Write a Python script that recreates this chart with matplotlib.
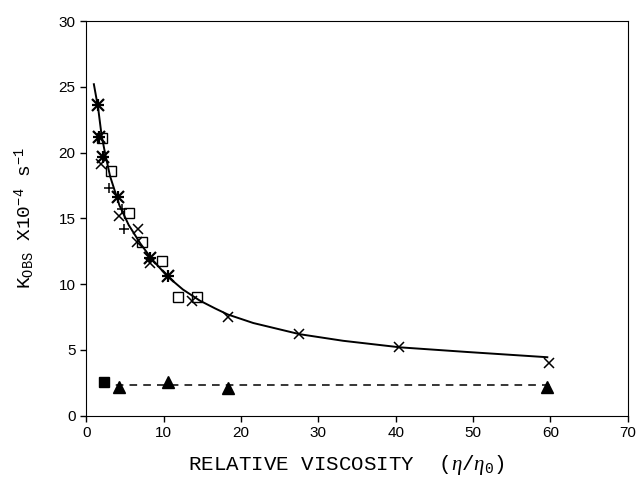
import matplotlib.pyplot as plt

plt.rcParams['mathtext.fontset'] = 'custom'
plt.rcParams['mathtext.rm'] = 'Liberation Mono'
plt.rcParams['mathtext.it'] = 'Liberation Serif:italic'
plt.rcParams['mathtext.tt'] = 'Liberation Mono'

# data
star_x = [1.55, 1.7, 2.2, 4.1, 8.3, 10.6]
star_y = [23.6, 21.2, 19.7, 16.6, 12.0, 10.6]

cross_x = [1.9, 4.3, 6.7, 6.6, 8.3, 13.7, 18.3, 27.5, 40.4, 59.8]
cross_y = [19.1, 15.2, 14.2, 13.2, 11.6, 8.7, 7.5, 6.2, 5.2, 4.0]

plus_x = [3.0, 4.65, 4.9]
plus_y = [17.3, 15.7, 14.2]

square_x = [2.1, 3.2, 5.6, 7.2, 9.8, 11.9, 14.3]
square_y = [21.1, 18.6, 15.4, 13.2, 11.8, 9.0, 9.0]

# fitted curve as drawn
fit_x = [1.0, 1.55, 2.0, 2.5, 3.1, 4.3, 5.5, 7.0, 8.5, 10.5, 12.5, 14.7, 16.7,
         18.3, 21.6, 27.6, 33.2, 40.6, 49.2, 59.6]
fit_y = [25.2, 23.4, 21.3, 19.8, 18.2, 16.0, 14.5, 13.1, 11.9, 10.6, 9.6, 8.75, 8.15,
         7.7, 7.05, 6.2, 5.7, 5.2, 4.85, 4.45]

# control (filled symbols)
fsq_x = [2.3]
fsq_y = [2.55]
tri_x = [4.3, 10.6, 18.3, 59.6]
tri_y = [2.2, 2.6, 2.1, 2.2]
dash_x = [2.0, 60.0]
dash_y = [2.35, 2.35]

fig = plt.figure(figsize=(6.38, 4.79), dpi=100)
ax = fig.add_axes([0.135, 0.132, 0.849, 0.824])

ax.plot(fit_x, fit_y, color='black', lw=1.4)
ax.plot(dash_x, dash_y, color='black', lw=1.1, ls=(0, (5, 4)))

ax.plot(star_x, star_y, ls='none', marker='x', ms=8, mew=1.6, color='black')
ax.plot(star_x, star_y, ls='none', marker='+', ms=8, mew=1.6, color='black')
ax.plot(cross_x, cross_y, ls='none', marker='x', ms=7, mew=1.1, color='black')
ax.plot(plus_x, plus_y, ls='none', marker='+', ms=7, mew=1.1, color='black')
ax.plot(square_x, square_y, ls='none', marker='s', ms=6.5, mew=1.0,
        mfc='none', mec='black')
ax.plot(fsq_x, fsq_y, ls='none', marker='s', ms=6.5, color='black')
ax.plot(tri_x, tri_y, ls='none', marker='^', ms=8, color='black')

ax.set_xlim(0, 70)
ax.set_ylim(0, 30)
ax.set_xticks(range(0, 71, 10))
ax.set_yticks(range(0, 31, 5))
ax.tick_params(direction='out', length=4, width=1, labelsize=11)
for lab in ax.get_xticklabels() + ax.get_yticklabels():
    lab.set_fontfamily('Liberation Sans')

ax.set_xlabel(r'RELATIVE VISCOSITY  ($\eta/\eta_0$)', fontfamily='Liberation Mono',
              fontsize=15)
ax.xaxis.set_label_coords(0.48, -0.095)
ax.set_ylabel(r'K$_{\mathrm{OBS}}$ X10$^{-4}$ s$^{-1}$', fontfamily='Liberation Mono',
              fontsize=14)
ax.yaxis.set_label_coords(-0.09, 0.5)

fig.savefig('out.png', dpi=100)
